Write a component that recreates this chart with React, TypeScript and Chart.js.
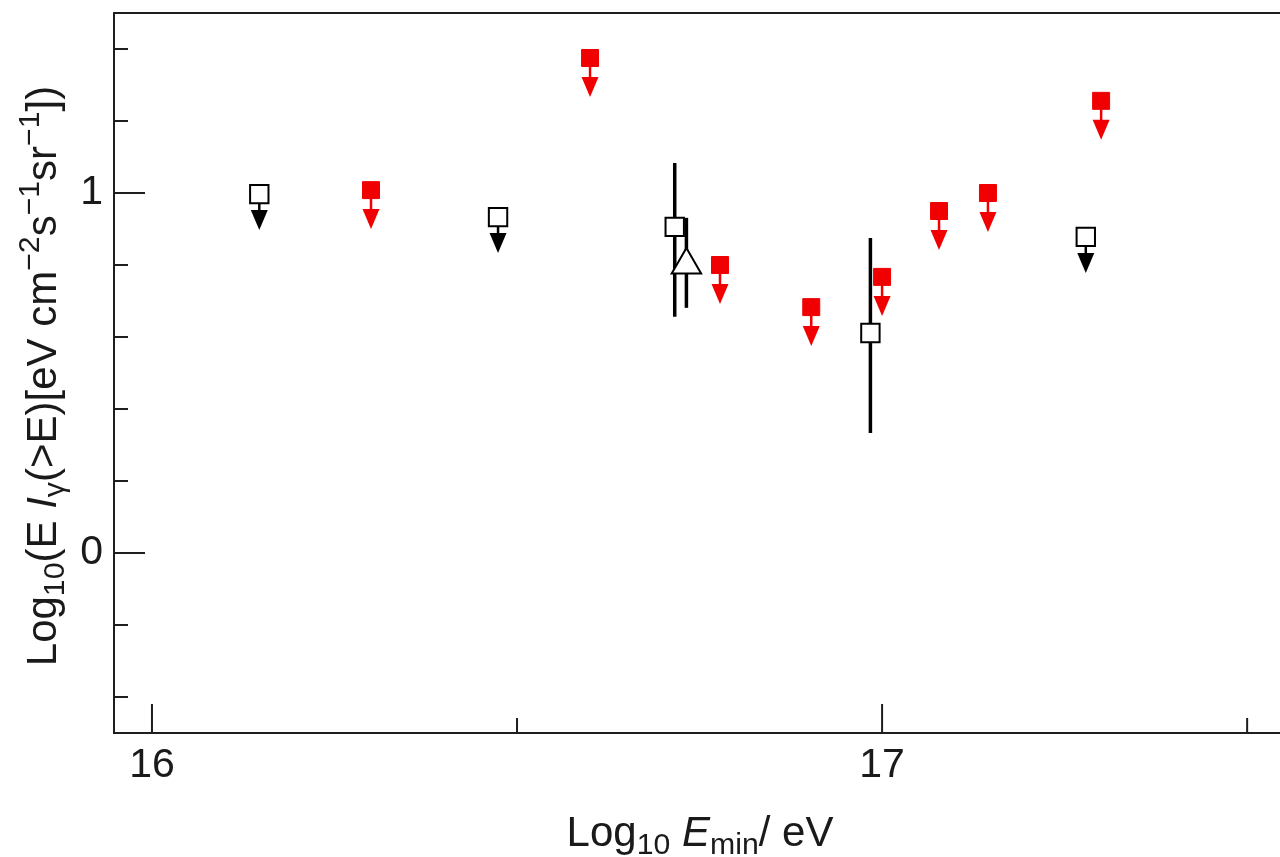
import React, { useEffect, useRef } from 'react';
import { Chart, registerables } from 'chart.js';

Chart.register(...registerables);

// ---- data (log10 E_min [eV], log10 flux) ----
const upperBlackX = [16.147, 16.474, 17.279];
const upperBlackY = [0.997, 0.933, 0.878];

const upperRedX = [16.3, 16.6, 16.778, 16.903, 17.0, 17.078, 17.145, 17.3];
const upperRedY = [1.008, 1.375, 0.8, 0.683, 0.767, 0.95, 1.0, 1.256];

const detectedX = [16.716, 16.984];
const detectedY = [0.906, 0.611];
const detectedHi = [1.083, 0.875];
const detectedLo = [0.656, 0.333];

const triangleX = [16.732];
const triangleY = [0.8];
const triangleHi = [0.931];
const triangleLo = [0.681];

const xMajorTicks = [16, 17];
const xMinorTicks = [16.5, 17.5];
const yMajorTicks = [0, 1];
const yMinorTicks = [-0.4, -0.2, 0.2, 0.4, 0.6, 0.8, 1.2, 1.4];

const xMin = 15.948;
const xMax = 17.545;
const yMin = -0.5;
const yMax = 1.5;

const FONT = '"Liberation Sans", Arial, Helvetica, sans-serif';
const TEXT = '#1a1a1a';
const RED = '#f00000';

type Part = { t: string; it?: boolean; pos?: 'sub' | 'sup' };

const yTitleParts: Part[] = [
  { t: 'Log' }, { t: '10', pos: 'sub' }, { t: '(E ' }, { t: 'I', it: true }, { t: 'γ', pos: 'sub' },
  { t: '(>E)[eV cm' }, { t: '−2', pos: 'sup' }, { t: 's' }, { t: '−1', pos: 'sup' },
  { t: 'sr' }, { t: '−1', pos: 'sup' }, { t: '])' },
];
const xTitleParts: Part[] = [
  { t: 'Log' }, { t: '10', pos: 'sub' }, { t: ' ' }, { t: 'E', it: true }, { t: 'min', pos: 'sub' },
  { t: '/ eV' },
];

function partFont(p: Part, F: number) {
  const size = p.pos ? F * 0.72 : F;
  return `${p.it ? 'italic ' : ''}${size}px ${FONT}`;
}
function richWidth(ctx: CanvasRenderingContext2D, parts: Part[], F: number) {
  let w = 0;
  for (const p of parts) {
    ctx.font = partFont(p, F);
    w += ctx.measureText(p.t).width;
  }
  return w;
}
function drawRich(ctx: CanvasRenderingContext2D, parts: Part[], F: number, x0: number, y0: number) {
  let x = x0;
  ctx.textAlign = 'left';
  ctx.textBaseline = 'alphabetic';
  for (const p of parts) {
    ctx.font = partFont(p, F);
    const dy = p.pos === 'sub' ? F * 0.2 : p.pos === 'sup' ? -F * 0.4 : 0;
    ctx.fillText(p.t, x, y0 + dy);
    x += ctx.measureText(p.t).width;
  }
}

const decorPlugin = {
  id: 'decor',
  beforeDatasetsDraw(chart: any) {
    const ctx: CanvasRenderingContext2D = chart.ctx;
    const ys = chart.scales.y;
    ctx.save();
    // error bars
    chart.data.datasets.forEach((ds: any, di: number) => {
      if (!ds.errHi) return;
      const meta = chart.getDatasetMeta(di);
      meta.data.forEach((pt: any, i: number) => {
        const yHi = ys.getPixelForValue(ds.errHi[i]);
        const yLo = ys.getPixelForValue(ds.errLo[i]);
        ctx.strokeStyle = '#000';
        ctx.lineWidth = 3.5;
        ctx.beginPath();
        ctx.moveTo(pt.x, yHi);
        ctx.lineTo(pt.x, yLo);
        ctx.stroke();
      });
    });
    // upper-limit arrows
    chart.data.datasets.forEach((ds: any, di: number) => {
      if (!ds.arrowColor) return;
      const meta = chart.getDatasetMeta(di);
      const headTop = ds.arrowHeadTop;
      meta.data.forEach((pt: any) => {
        ctx.strokeStyle = ds.arrowColor;
        ctx.fillStyle = ds.arrowColor;
        ctx.lineWidth = 2.5;
        ctx.beginPath();
        ctx.moveTo(pt.x, pt.y + 6);
        ctx.lineTo(pt.x, pt.y + headTop + 2);
        ctx.stroke();
        ctx.beginPath();
        ctx.moveTo(pt.x - 8.5, pt.y + headTop);
        ctx.lineTo(pt.x + 8.5, pt.y + headTop);
        ctx.lineTo(pt.x, pt.y + headTop + 20);
        ctx.closePath();
        ctx.fill();
      });
    });
    ctx.restore();
  },
  afterDraw(chart: any) {
    const ctx: CanvasRenderingContext2D = chart.ctx;
    const { left, right, top, bottom } = chart.chartArea;
    const xs = chart.scales.x;
    const ys = chart.scales.y;
    ctx.save();
    ctx.strokeStyle = '#1e1e1e';
    ctx.lineWidth = 2;
    // frame: left, bottom, top
    ctx.beginPath();
    ctx.moveTo(right, top);
    ctx.lineTo(left, top);
    ctx.lineTo(left, bottom);
    ctx.lineTo(right, bottom);
    ctx.stroke();
    // inward ticks
    ctx.lineWidth = 2;
    ctx.beginPath();
    xMajorTicks.forEach((v) => { const px = xs.getPixelForValue(v); ctx.moveTo(px, bottom); ctx.lineTo(px, bottom - 29); });
    xMinorTicks.forEach((v) => { const px = xs.getPixelForValue(v); ctx.moveTo(px, bottom); ctx.lineTo(px, bottom - 15); });
    yMajorTicks.forEach((v) => { const py = ys.getPixelForValue(v); ctx.moveTo(left, py); ctx.lineTo(left + 31, py); });
    yMinorTicks.forEach((v) => { const py = ys.getPixelForValue(v); ctx.moveTo(left, py); ctx.lineTo(left + 14, py); });
    ctx.stroke();

    // axis titles
    const F = 42;
    ctx.fillStyle = TEXT;
    const wx = richWidth(ctx, xTitleParts, F);
    drawRich(ctx, xTitleParts, F, 700 - wx / 2, 846);

    const wy = richWidth(ctx, yTitleParts, F);
    ctx.translate(56, 376);
    ctx.rotate(-Math.PI / 2);
    drawRich(ctx, yTitleParts, F, -wy / 2, 0);
    ctx.restore();
  },
};

export default function App() {
  const ref = useRef<HTMLCanvasElement>(null);

  useEffect(() => {
    const canvas = ref.current;
    if (!canvas) return;
    const pts = (xs: number[], ys: number[]) => xs.map((x, i) => ({ x, y: ys[i] }));
    const chart = new Chart(canvas, {
      type: 'scatter',
      data: {
        datasets: [
          {
            label: 'upper limits (black)',
            data: pts(upperBlackX, upperBlackY),
            pointStyle: 'rect',
            pointRadius: 13,
            pointHoverRadius: 13,
            backgroundColor: '#ffffff',
            borderColor: '#000000',
            borderWidth: 2,
            arrowColor: '#000000',
            arrowHeadTop: 16,
          } as any,
          {
            label: 'upper limits (red)',
            data: pts(upperRedX, upperRedY),
            pointStyle: 'rect',
            pointRadius: 12,
            pointHoverRadius: 12,
            backgroundColor: RED,
            borderColor: RED,
            borderWidth: 1,
            arrowColor: RED,
            arrowHeadTop: 19,
          } as any,
          {
            label: 'measurements',
            data: pts(detectedX, detectedY),
            pointStyle: 'rect',
            pointRadius: 13,
            pointHoverRadius: 13,
            backgroundColor: '#ffffff',
            borderColor: '#000000',
            borderWidth: 2,
            errHi: detectedHi,
            errLo: detectedLo,
          } as any,
          {
            label: 'measurement (triangle)',
            data: pts(triangleX, triangleY),
            pointStyle: 'triangle',
            pointRadius: 17,
            pointHoverRadius: 17,
            backgroundColor: '#ffffff',
            borderColor: '#000000',
            borderWidth: 2,
            errHi: triangleHi,
            errLo: triangleLo,
          } as any,
        ],
      },
      options: {
        responsive: false,
        animation: false,
        devicePixelRatio: 1,
        layout: { autoPadding: false, padding: { top: 13, right: 0, left: 0, bottom: 0 } },
        plugins: { legend: { display: false }, tooltip: { enabled: false }, title: { display: false } },
        scales: {
          x: {
            type: 'linear',
            min: xMin,
            max: xMax,
            grid: { display: false, drawTicks: false },
            border: { display: false },
            afterBuildTicks: (scale: any) => { scale.ticks = xMajorTicks.map((v) => ({ value: v })); },
            afterFit: (scale: any) => { scale.height = 124; scale.paddingLeft = 0; scale.paddingRight = 0; },
            ticks: {
              autoSkip: false,
              maxRotation: 0,
              padding: 8,
              color: TEXT,
              font: { family: FONT, size: 41 },
              callback: (v: any) => String(v),
            },
          },
          y: {
            type: 'linear',
            min: yMin,
            max: yMax,
            grid: { display: false, drawTicks: false },
            border: { display: false },
            afterBuildTicks: (scale: any) => { scale.ticks = yMajorTicks.map((v) => ({ value: v })); },
            afterFit: (scale: any) => { scale.width = 114; scale.paddingTop = 0; scale.paddingBottom = 0; },
            ticks: {
              autoSkip: false,
              padding: 11,
              color: TEXT,
              font: { family: FONT, size: 41 },
              callback: (v: any) => String(v),
            },
          },
        },
      },
      plugins: [decorPlugin],
    });
    return () => chart.destroy();
  }, []);

  return (
    <div style={{ position: 'absolute', left: 0, top: 0, width: 1280, height: 857, background: '#fff' }}>
      <canvas ref={ref} width={1280} height={857} style={{ display: 'block', width: 1280, height: 857 }} />
    </div>
  );
}
